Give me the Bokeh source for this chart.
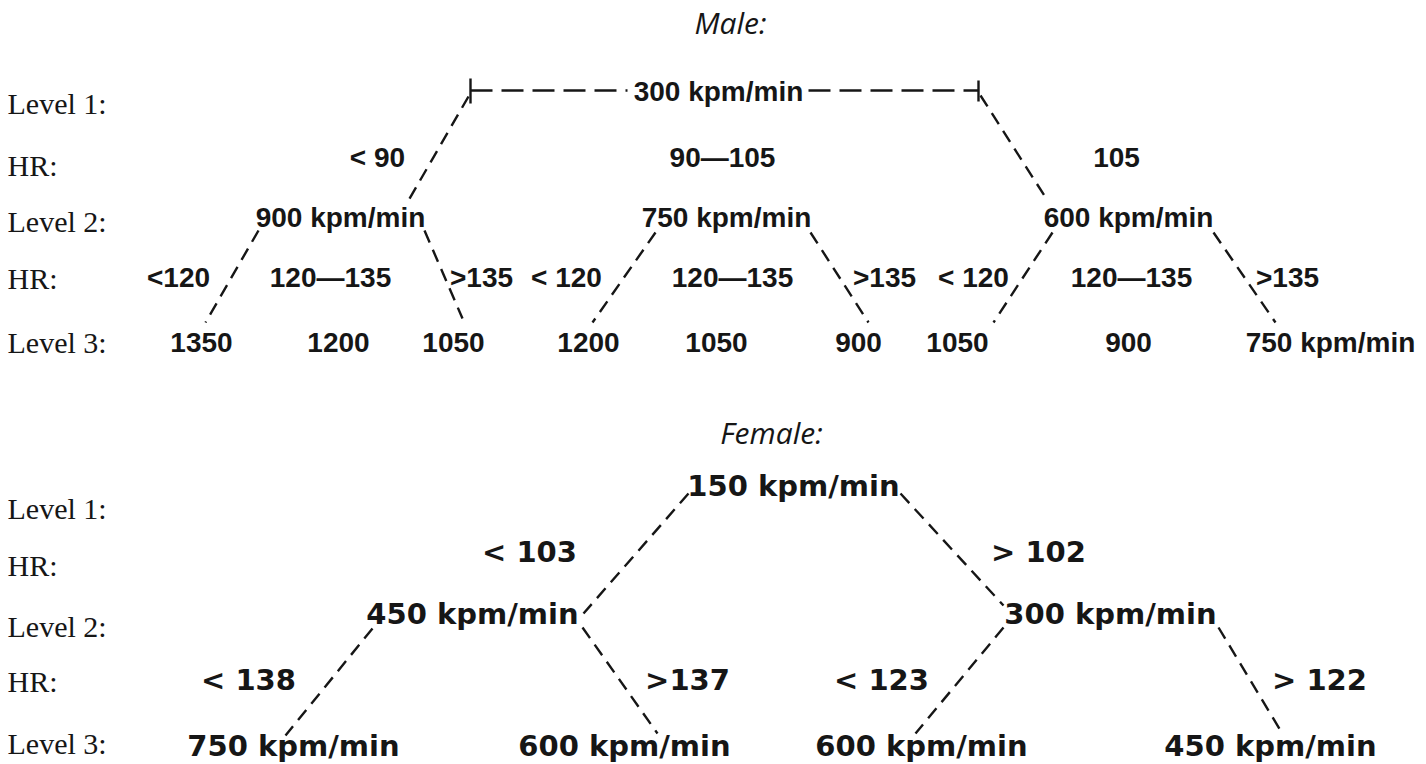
from bokeh.plotting import figure
from bokeh.models import Range1d, ColumnDataSource
from bokeh.core.properties import value
from bokeh.embed import file_html
from bokeh.resources import INLINE

# ---------------- data (labels) ----------------
row_labels = ["Level 1:", "HR:", "Level 2:", "HR:", "Level 3:"]

male_title = "Male:"
male_level1 = ["300 kpm/min"]
male_hr1 = ["< 90", "90\u2014105", "105"]
male_level2 = ["900 kpm/min", "750 kpm/min", "600 kpm/min"]
male_hr2 = ["<120", "120\u2014135", ">135", "< 120", "120\u2014135", ">135", "< 120", "120\u2014135", ">135"]
male_level3 = ["1350", "1200", "1050", "1200", "1050", "900", "1050", "900", "750 kpm/min"]

female_title = "Female:"
female_level1 = ["150 kpm/min"]
female_hr1 = ["< 103", "> 102"]
female_level2 = ["450 kpm/min", "300 kpm/min"]
female_hr2 = ["< 138", ">137", "< 123", "> 122"]
female_level3 = ["750 kpm/min", "600 kpm/min", "600 kpm/min", "450 kpm/min"]

# ---------------- layout (diagram positions) ----------------
male_row_y = [103, 165, 221, 278, 342]
female_row_y = [508, 565, 626, 681, 743]
male_text_y = [91, 157, 217, 277, 342]
female_text_y = [485, 551, 613, 679, 745]

male_x = [[718], [377, 722, 1116], [340, 726, 1128],
          [178, 330, 481, 566, 732, 884, 973, 1131, 1287],
          [201, 338, 453, 588, 716, 858, 957, 1128, 1330]]
female_x = [[793], [529, 1038], [472, 1110], [248, 687, 881, 1319], [293, 624, 921, 1270]]

male_edges = dict(x0=[468, 980, 258, 424, 655, 810, 1052, 1213],
                  y0=[96, 95, 230, 230, 232, 232, 232, 232],
                  x1=[408, 1047, 205, 462, 592, 868, 993, 1275],
                  y1=[200, 200, 322, 318, 322, 322, 322, 322])
female_edges = dict(x0=[688, 900, 372, 582, 1003, 1218],
                    y0=[493, 493, 628, 627, 627, 627],
                    x1=[583, 1003, 285, 657, 915, 1280],
                    y1=[613, 605, 735, 733, 733, 730])
male_hline = dict(x0=[470, 808], y0=[90, 90], x1=[627, 978], y1=[90, 90])
male_ticks = dict(x0=[470, 978], y0=[78, 80], x1=[470, 978], y1=[103, 101])

INK = "#161616"
W, H = 1426, 764

p = figure(width=W, height=H, x_range=Range1d(0, W), y_range=Range1d(H, 0),
           output_backend="svg", toolbar_location=None, min_border=0)
p.axis.visible = False
p.grid.visible = False
p.outline_line_color = None
p.background_fill_color = "white"
p.border_fill_color = "white"

# row labels (serif)
for ys in (male_row_y, female_row_y):
    p.text(x=[7] * len(row_labels), y=ys, text=row_labels,
           text_font=value("Liberation Serif"), text_font_size="30px",
           text_align="left", text_baseline="middle", text_color=INK)

# titles
p.text(x=[730], y=[22], text=[male_title], text_font=value("Open Sans"),
       text_font_style="italic", text_font_size="30px", text_align="center",
       text_baseline="middle", text_color=INK)
p.text(x=[771], y=[432], text=[female_title], text_font=value("Open Sans"),
       text_font_style="italic", text_font_size="30px", text_align="center",
       text_baseline="middle", text_color=INK)

# male tree texts
male_groups = [male_level1, male_hr1, male_level2, male_hr2, male_level3]
for i, labels in enumerate(male_groups):
    src = ColumnDataSource(dict(x=male_x[i], y=[male_text_y[i]] * len(labels), t=labels))
    p.text(x="x", y="y", text="t", source=src, text_font=value("Liberation Sans"),
           text_font_style="bold", text_font_size="28px", text_align="center",
           text_baseline="middle", text_color=INK)

female_groups = [female_level1, female_hr1, female_level2, female_hr2, female_level3]
for i, labels in enumerate(female_groups):
    src = ColumnDataSource(dict(x=female_x[i], y=[female_text_y[i]] * len(labels), t=labels))
    p.text(x="x", y="y", text="t", source=src, text_font=value("DejaVu Sans"),
           text_font_style="bold", text_font_size="29px", text_align="center",
           text_baseline="middle", text_color=INK)

# edges
for e in (male_edges, female_edges):
    p.segment(x0="x0", y0="y0", x1="x1", y1="y1", source=ColumnDataSource(e),
              line_color=INK, line_width=2.4, line_dash="13 8")
p.segment(x0="x0", y0="y0", x1="x1", y1="y1", source=ColumnDataSource(male_hline),
          line_color=INK, line_width=2.4, line_dash="22 9")
p.segment(x0="x0", y0="y0", x1="x1", y1="y1", source=ColumnDataSource(male_ticks),
          line_color=INK, line_width=2.4)

open("out.html", "w").write(file_html(p, INLINE))
